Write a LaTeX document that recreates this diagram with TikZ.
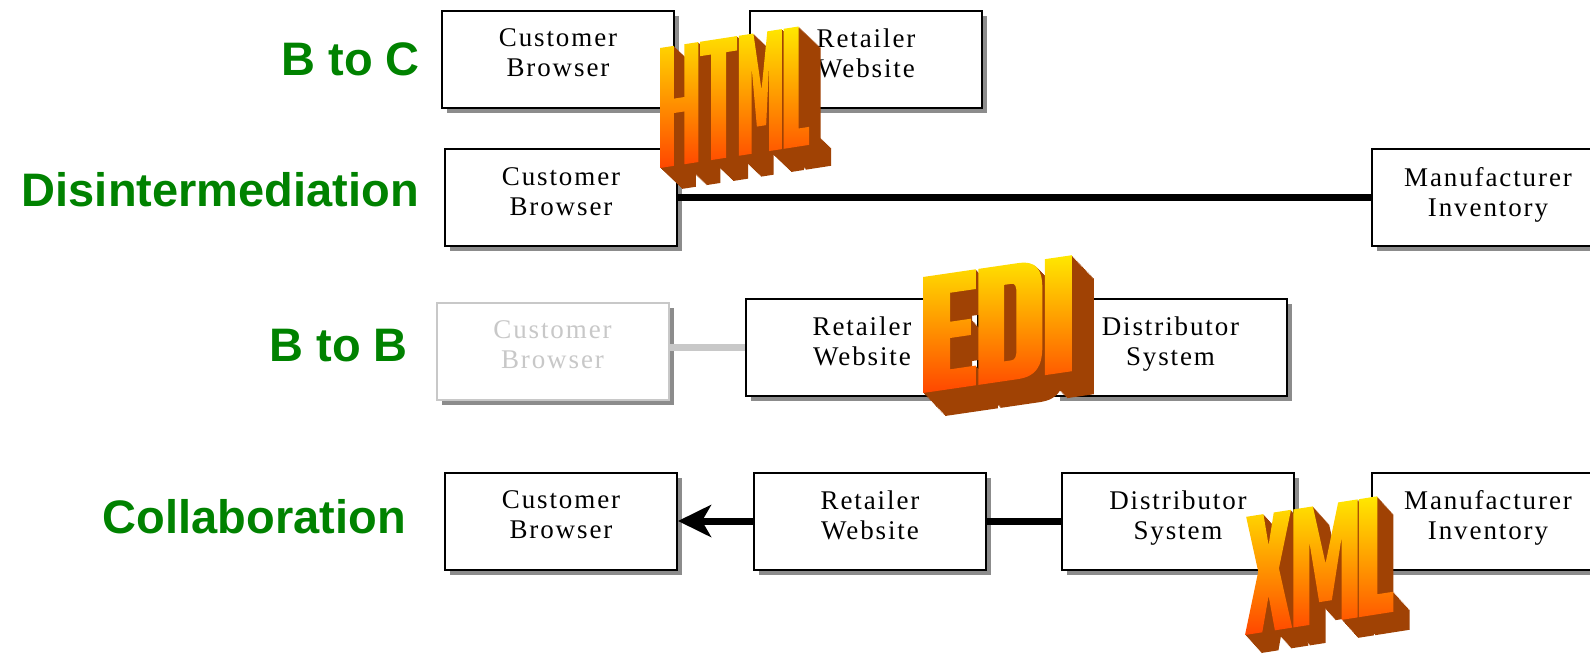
\documentclass[tikz,border=0pt]{standalone}
\usepackage{fontspec}
\setmainfont{Liberation Serif}
\newfontfamily\boxfont{Liberation Serif}[LetterSpace=7]
\newfontfamily\lblfont{Liberation Sans}
\usetikzlibrary{arrows.meta,shadows}

\definecolor{lblgreen}{RGB}{0,130,0}
\definecolor{shadowgray}{RGB}{140,140,140}
\definecolor{fadegray}{RGB}{200,200,200}
\definecolor{artyellow}{RGB}{255,232,0}
\definecolor{artorange}{RGB}{255,165,0}
\definecolor{artred}{RGB}{255,70,0}
\definecolor{artbrown}{RGB}{160,66,4}

% Block letters of the three 3-D words, 10 units tall, y pointing up
\def\htmlglyphs{%
  (0,0)--(1.2,0)--(1.2,4.4)--(2.1,4.4)--(2.1,0)--(3.3,0)--(3.3,10)--(2.1,10)--(2.1,5.6)--(1.2,5.6)--(1.2,10)--(0,10)--cycle
  (4.4,0)--(5.7,0)--(5.7,8.8)--(6.65,8.8)--(6.65,10)--(3.45,10)--(3.45,8.8)--(4.4,8.8)--cycle
  (6.8,0)--(7.9,0)--(7.9,7.2)--(8.35,2.2)--(9.15,2.2)--(9.4,7.2)--(9.4,0)--(10.5,0)--(10.5,10)--(9.25,10)--(8.75,5.2)--(8.05,10)--(6.8,10)--cycle
  (10.65,0)--(12.85,0)--(12.85,1.5)--(11.95,1.5)--(11.95,10)--(10.65,10)--cycle}
\def\ediglyphs{%
  (0,0)--(4.3,0)--(4.3,1.7)--(2.2,1.7)--(2.2,4.4)--(3.9,4.4)--(3.9,5.8)--(2.2,5.8)--(2.2,8.3)--(4.3,8.3)--(4.3,10)--(0,10)--cycle
  (4.5,0)--(7.7,0) .. controls (9.2,0) and (9.7,0.8) .. (9.7,2.5)--(9.7,7.5) .. controls (9.7,9.2) and (9.2,10) .. (7.7,10)--(4.5,10)--cycle
  (6.6,1.7)--(7.2,1.7) .. controls (7.5,1.7) and (7.6,2) .. (7.6,2.6)--(7.6,7.4) .. controls (7.6,8) and (7.5,8.3) .. (7.2,8.3)--(6.6,8.3)--cycle
  (9.9,0)--(12.1,0)--(12.1,10)--(9.9,10)--cycle}
\def\xmlglyphs{%
  (0,0)--(1.5,0)--(2.05,3.0)--(2.6,0)--(4.1,0)--(2.95,5.2)--(4.0,10)--(2.5,10)--(2.05,7.3)--(1.6,10)--(0.1,10)--(1.15,5.2)--cycle
  (4.2,0)--(5.6,0)--(5.6,7.0)--(6.45,1.8)--(7.55,1.8)--(8.4,7.0)--(8.4,0)--(9.8,0)--(9.8,10)--(8.1,10)--(7.0,5.0)--(5.9,10)--(4.2,10)--cycle
  (9.9,0)--(12.9,0)--(12.9,1.7)--(11.5,1.7)--(11.5,10)--(9.9,10)--cycle}

% #1 front-bottom-left corner, #2 unit vectors, #3 steps, #4 step dx, #5 step dy, #6 glyphs
\newcommand\extrudedword[6]{%
  \begin{scope}[shift={#1}, #2]
    \foreach \k in {#3,...,1}{
      \fill[artbrown, even odd rule, shift={({\k*#4pt},{-\k*#5pt})}] #6;
    }
    \shade[even odd rule, top color=artyellow, middle color=artorange, bottom color=artred] #6;
  \end{scope}}

\tikzset{
  sysbox/.style={draw=black, line width=2pt, fill=white, text=black,
    minimum width=232pt, minimum height=97pt, inner sep=0pt, align=center,
    font=\boxfont\fontsize{27}{30}\selectfont, text depth=12pt,
    drop shadow={shadow xshift=5pt, shadow yshift=-5pt, fill=shadowgray, opacity=1}},
  fadedbox/.style={sysbox, draw=fadegray, text=fadegray},
  link/.style={line width=7pt, draw=black},
  rowlabel/.style={anchor=east, inner sep=0pt, text=lblgreen,
    font=\lblfont\bfseries\fontsize{47}{51}\selectfont}
}

\begin{document}
\begin{tikzpicture}[x=1pt, y=-1pt]
\useasboundingbox (0,0) rectangle (1590,656);
\clip (0,0) rectangle (1590,656);

% row labels
\node[rowlabel] (lbtoc) at (420,59) {B to C};
\node[rowlabel] (ldis)  at (419,190) {Disintermediation};
\node[rowlabel] (lbtob) at (408,346) {B to B};
\node[rowlabel] (lcol)  at (406,517) {Collaboration};

% B to C
\node[sysbox] (cb1) at (558,59) {Customer\\Browser};
\node[sysbox] (rw1) at (866,59) {Retailer\\Website};

% Disintermediation
\node[sysbox] (cb2) at (561,197.5) {Customer\\Browser};
\node[sysbox] (mi2) at (1488,197.5) {Manufacturer\\Inventory};
\draw[link] (cb2.east) -- (mi2.west);

% B to B
\node[fadedbox] (cb3) at (552.5,351) {Customer\\Browser};
\node[sysbox] (rw3) at (862,347) {Retailer\\Website};
\node[sysbox] (ds3) at (1170.5,347) {Distributor\\System};
\draw[link, draw=fadegray] (rw3.west) -- (rw3.west -| cb3.east);

% Collaboration
\node[sysbox] (cb4) at (561,521) {Customer\\Browser};
\node[sysbox] (rw4) at (870,521) {Retailer\\Website};
\node[sysbox] (ds4) at (1178,521) {Distributor\\System};
\node[sysbox] (mi4) at (1488,521) {Manufacturer\\Inventory};
\draw[link, -{Stealth[length=33pt, width=32pt, inset=9pt]}] (rw4.west) -- (cb4.east);
\draw[link] (rw4.east) -- (ds4.west);

% 3-D words
\extrudedword{(660,168)}{x={(11.6pt,1.8pt)}, y={(0pt,12pt)}}{22}{1}{0.95}{\htmlglyphs}
\extrudedword{(923,393)}{x={(12.3pt,1.8pt)}, y={(0pt,11.6pt)}}{20}{1.1}{1.15}{\ediglyphs}
\extrudedword{(1245,635)}{x={(11.5pt,1.8pt)}, y={(0pt,11.8pt)}}{18}{0.9}{1}{\xmlglyphs}
\end{tikzpicture}
\end{document}
